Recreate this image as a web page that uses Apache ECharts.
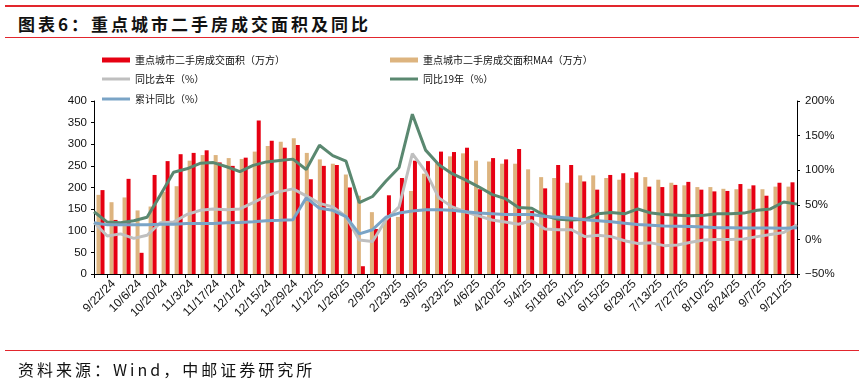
<!DOCTYPE html>
<html><head><meta charset="utf-8">
<script src="https://cdn.jsdelivr.net/npm/echarts@6/dist/echarts.min.js"></script>
<style>
html,body{margin:0;padding:0;background:#fff;}
#wrap{position:relative;width:859px;height:385px;overflow:hidden;background:#fff;}
#chart{position:absolute;left:0;top:0;width:859px;height:385px;}
.rule{position:absolute;background:#e2262d;}
.title{position:absolute;left:18px;top:14px;font-weight:bold;font-size:17px;font-family:"Noto Sans CJK SC";letter-spacing:3px;line-height:20px;color:#111;white-space:nowrap;}
.source{position:absolute;left:18px;top:359px;font-size:16px;font-family:"Noto Sans CJK SC";letter-spacing:3px;line-height:20px;color:#111;white-space:nowrap;}
</style></head>
<body>
<div id="wrap">
  <div class="rule" style="left:5px;top:5px;width:855px;height:2px;"></div>
  <div class="title">图表6：重点城市二手房成交面积及同比</div>
  <div class="rule" style="left:5px;top:37px;width:855px;height:1px;"></div>
  <div id="chart"></div>
  <div class="rule" style="left:5px;top:350px;width:855px;height:1px;"></div>
  <div class="source">资料来源：Wind，中邮证券研究所</div>
</div>
<script>
var dates = ['9/15/24','9/22/24','9/29/24','10/6/24','10/13/24','10/20/24','10/27/24','11/3/24','11/10/24','11/17/24','11/24/24','12/1/24','12/8/24','12/15/24','12/22/24','12/29/24','1/5/25','1/12/25','1/19/25','1/26/25','2/2/25','2/9/25','2/16/25','2/23/25','3/2/25','3/9/25','3/16/25','3/23/25','3/30/25','4/6/25','4/13/25','4/20/25','4/27/25','5/4/25','5/11/25','5/18/25','5/25/25','6/1/25','6/8/25','6/15/25','6/22/25','6/29/25','7/6/25','7/13/25','7/20/25','7/27/25','8/3/25','8/10/25','8/17/25','8/24/25','8/31/25','9/7/25','9/14/25','9/21/25'];
var areaWeekly = [194,125,220,49,229,261,277,280,286,258,250,269,355,308,292,298,219,250,252,200,18,104,182,222,262,261,283,282,292,196,268,265,289,146,198,252,252,214,195,229,233,235,202,201,206,213,195,191,192,208,205,181,211,212];
var areaMA4 = [183,166,177,147,156,190,203,262,275,275,268,266,283,296,306,314,280,265,255,230,181,143,126,132,192,232,256,272,279,262,260,255,255,242,224,222,211,228,228,222,218,222,224,218,211,205,201,201,197,196,197,196,202,202];
var yoyLastYear = [24.5,5,8,1.5,6,24,25,36,42,44,43,44,53,63,69,73,63,52,47,33,-1,-3,28,47,124,98,60,47,40,34,28,25,22,27,15,14,14,4,6,4,-2,-6,-5,-9,-8,-4,-1,0,0,0.5,4,7,10,21];
var yoy2019 = [40,25,24,27,32,64,97,102,110,111,105,98,107,112,114,116,101,136,121,113,53,62,84,104,181,129,108,95,86,76,65,59,46,45,34,29,28,29,37,39,37,44,38,36,35,34,35,37,37,38,42,44,54,51];
var yoyCumulative = [24,21,21,21,21,22,22,23,23,23,24,24.5,25.5,27,27.5,28.5,60,45,42,33,8,14,32,38,41,43,43,42,40,38,37,36,36,36,33,32,30.5,28.5,27,25.5,23.5,21.5,20.5,19.5,19,18.5,18,17,17,16.5,16.5,16.5,16,17];

var N1 = '重点城市二手房成交面积（万方）';
var N2 = '重点城市二手房成交面积MA4（万方）';
var N3 = '同比去年（%）';
var N4 = '同比19年（%）';
var N5 = '累计同比（%）';
var C_RED = '#E60012', C_TAN = '#DDB47F', C_GRAY = '#BFBFBF', C_GREEN = '#5A8870', C_BLUE = '#7AA4C6';

var chart = echarts.init(document.getElementById('chart'), null, {renderer:'canvas'});
var lt = {fontSize:10, fontFamily:'Noto Sans CJK SC', color:'#111', lineHeight:12};
function lg(name, left, top, h){
  return {data:[name], left:left, top:top, padding:0, icon:'rect', itemWidth:28, itemHeight:h, textStyle:lt, selectedMode:false};
}
var axisFont = {fontSize:11.5, fontFamily:'Liberation Sans', color:'#111'};
chart.setOption({
  animation:false,
  legend:[lg(N1,102,54,5), lg(N3,102,73,3), lg(N5,102,93,3), lg(N2,390,54,5), lg(N4,390,73,3)],
  grid:{left:94, right:62, top:101, bottom:111, containLabel:false},
  xAxis:[{
    type:'category', data:dates, boundaryGap:true,
    axisLine:{show:true, lineStyle:{color:'#000', width:1}},
    axisTick:{show:true, interval:0, length:4, lineStyle:{color:'#000'}},
    axisLabel:{interval:function(i){return i%2===1;}, rotate:45, fontSize:12, fontFamily:'Liberation Sans', color:'#111', margin:8},
    splitLine:{show:false}
  },{
    type:'category', data:dates, boundaryGap:false, show:false, position:'bottom'
  }],
  yAxis:[{
    type:'value', min:0, max:400, interval:50, position:'left',
    axisLine:{show:true, lineStyle:{color:'#000', width:1}},
    axisTick:{show:true, length:3, lineStyle:{color:'#000'}},
    axisLabel:Object.assign({margin:7}, axisFont),
    splitLine:{show:false}
  },{
    type:'value', min:-50, max:200, interval:50, position:'right',
    axisLine:{show:true, lineStyle:{color:'#000', width:1}},
    axisTick:{show:true, length:3, lineStyle:{color:'#000'}},
    axisLabel:Object.assign({margin:8, formatter:function(v){return (v<0?'\u2212'+Math.abs(v):v)+'%';}}, axisFont),
    splitLine:{show:false}
  }],
  series:[
    {name:N2, type:'bar', xAxisIndex:0, yAxisIndex:0, data:areaMA4, barWidth:4, barGap:'0%', itemStyle:{color:C_TAN}},
    {name:N1, type:'bar', xAxisIndex:0, yAxisIndex:0, data:areaWeekly, barWidth:4, barGap:'0%', itemStyle:{color:C_RED}},
    {name:N3, type:'line', xAxisIndex:1, yAxisIndex:1, data:yoyLastYear, symbol:'none', lineStyle:{color:C_GRAY, width:3}, itemStyle:{color:C_GRAY}},
    {name:N4, type:'line', xAxisIndex:1, yAxisIndex:1, data:yoy2019, symbol:'none', lineStyle:{color:C_GREEN, width:3}, itemStyle:{color:C_GREEN}},
    {name:N5, type:'line', xAxisIndex:1, yAxisIndex:1, data:yoyCumulative, symbol:'none', lineStyle:{color:C_BLUE, width:3}, itemStyle:{color:C_BLUE}}
  ]
});
</script>
</body></html>
